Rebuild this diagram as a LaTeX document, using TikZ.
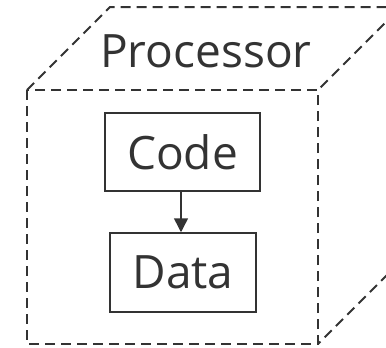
\documentclass[tikz,border=0pt]{standalone}
\usepackage{fontspec}
\setmainfont{Open Sans}
\usetikzlibrary{positioning,arrows.meta}
\definecolor{pcInk}{HTML}{333333}
\tikzset{
  pcedge/.style={draw=pcInk, line width=2pt, dash pattern=on 10pt off 6pt},
  pcbox/.style={rectangle, draw=pcInk, line width=1.5pt, inner sep=0pt,
                text=pcInk, font=\fontsize{46}{50}\selectfont},
  pclab/.style={text=pcInk, font=\fontsize{46}{50}\selectfont, inner sep=0pt},
  pcarr/.style={draw=pcInk, line width=1.5pt, -{Triangle[width=14pt,length=14pt]}},
}

\begin{document}
\begin{tikzpicture}[x=1pt, y=-1pt]
  \useasboundingbox (0,0) rectangle (386,348);
  \clip (0,0) rectangle (386,348);
  % processor cube
  \draw[pcedge] (27,90) rectangle (318,344);
  \draw[pcedge] (27,90) -- (110,7) -- (401,7) -- (318,90);
  \draw[pcedge] (401,7) -- (401,261) -- (318,344);
  \node[pclab] (proc) at (206,51) {Processor};
  % contents
  \node[pcbox, minimum width=155pt, minimum height=78pt] (code) at (182.5,152) {Code};
  \node[pcbox, minimum width=146pt, minimum height=79pt] (data) at (183,272.5) {Data};
  \draw[pcarr] (code.south -| 181,0) -- (data.north -| 181,0);
\end{tikzpicture}
\end{document}
